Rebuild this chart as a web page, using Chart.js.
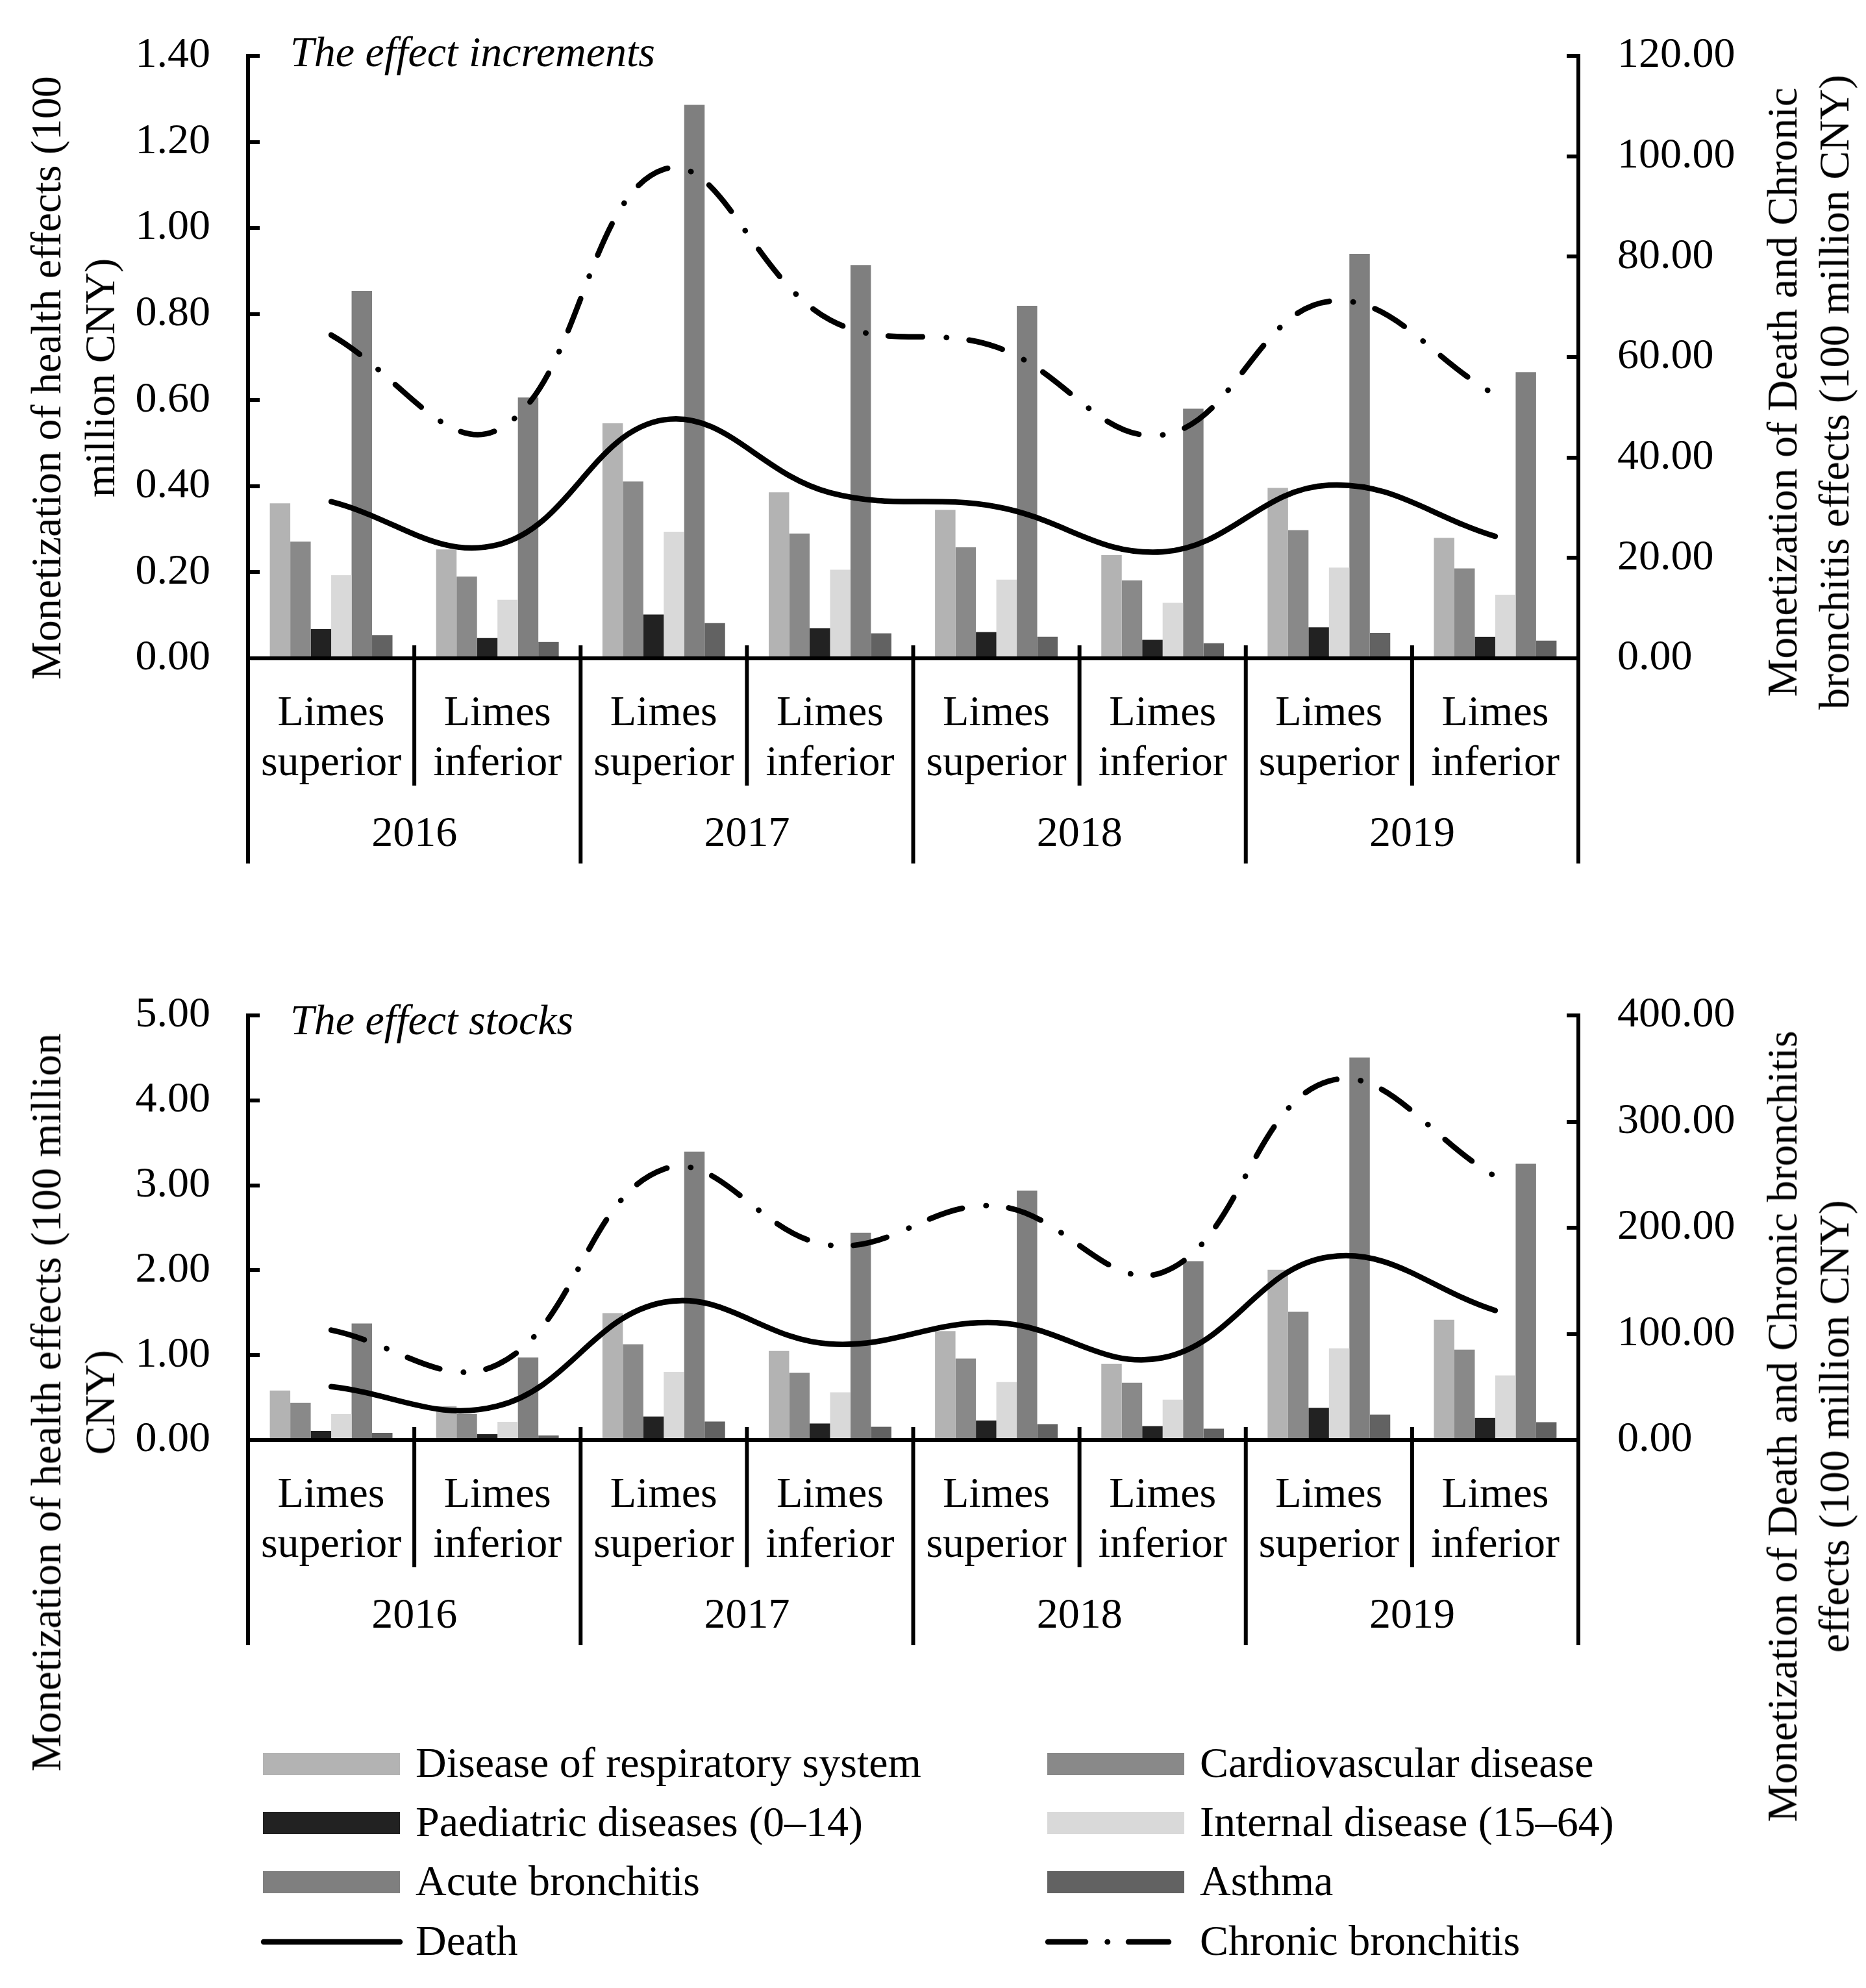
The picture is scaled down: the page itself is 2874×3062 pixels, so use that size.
<!DOCTYPE html>
<html>
<head>
<meta charset="utf-8">
<script src="https://cdn.jsdelivr.net/npm/chart.js@4.4.0/dist/chart.umd.min.js"></script>
<style>
  html, body { margin: 0; padding: 0; background: #fff; }
  body { width: 2874px; height: 3062px; position: relative; overflow: hidden;
         font-family: "Liberation Serif", "Times New Roman", serif; color: #000; }
  canvas { position: absolute; left: 0; }
  .title { position: absolute; font-size: 66px; line-height: 66px; font-style: italic; white-space: nowrap; }
  .ytitle { position: absolute; font-size: 66px; white-space: nowrap; text-align: center;
            transform: translate(-50%, -50%) rotate(-90deg); }
  .lg-text { position: absolute; font-size: 66px; line-height: 66px; white-space: nowrap; }
  .lg-box { position: absolute; width: 211px; height: 34px; }
  svg.lg-line { position: absolute; overflow: visible; }
</style>
</head>
<body>
<canvas id="incChart" width="2874" height="1340" style="top:0px"></canvas>
<canvas id="stockChart" width="2874" height="1060" style="top:1480px"></canvas>

<div class="title" style="left:447px;top:47px">The effect increments</div>
<div class="title" style="left:447px;top:1538px">The effect stocks</div>

<div class="ytitle" style="left:112px;top:582px;line-height:83px">Monetization of health effects (100<br>million CNY)</div>
<div class="ytitle" style="left:2785px;top:604px;line-height:80px">Monetization of Death and Chronic<br>bronchitis effects (100 million CNY)</div>
<div class="ytitle" style="left:112px;top:2160px;line-height:83px">Monetization of health effects (100 million<br>CNY)</div>
<div class="ytitle" style="left:2785px;top:2197px;line-height:80px">Monetization of Death and Chronic bronchitis<br>effects (100 million CNY)</div>

<div id="legend"></div>

<script>
// categories
const years = ['2016', '2017', '2018', '2019'];
const limes = [['Limes', 'superior'], ['Limes', 'inferior']];
const categories = years.flatMap(() => limes);

const barNames = ['Disease of respiratory system', 'Cardiovascular disease', 'Paediatric diseases (0\u201314)',
                  'Internal disease (15\u201364)', 'Acute bronchitis', 'Asthma'];
const barColors = ['#b3b3b3', '#898989', '#222222', '#d9d9d9', '#7f7f7f', '#626262'];
const lineNames = ['Death', 'Chronic bronchitis'];

// the effect increments (left axis, 100 million CNY)
const incRespiratory = [0.360, 0.253, 0.546, 0.386, 0.345, 0.240, 0.396, 0.280];
const incCardio      = [0.271, 0.190, 0.411, 0.290, 0.258, 0.181, 0.298, 0.209];
const incPaediatric  = [0.068, 0.047, 0.102, 0.070, 0.061, 0.043, 0.072, 0.050];
const incInternal    = [0.193, 0.136, 0.294, 0.206, 0.183, 0.129, 0.211, 0.148];
const incAcute       = [0.854, 0.606, 1.286, 0.914, 0.819, 0.580, 0.940, 0.665];
const incAsthma      = [0.054, 0.038, 0.082, 0.058, 0.050, 0.035, 0.059, 0.041];
// right axis
const incDeath   = [31.2, 22.6, 47.5, 33.0, 30.2, 21.2, 34.5, 24.3];
const incChronic = [64.4, 45.5, 97.4, 67.4, 62.0, 44.5, 71.1, 52.5];

// the effect stocks
const stkRespiratory = [0.582, 0.400, 1.494, 1.049, 1.283, 0.897, 2.005, 1.416];
const stkCardio      = [0.437, 0.306, 1.127, 0.792, 0.959, 0.675, 1.509, 1.065];
const stkPaediatric  = [0.107, 0.069, 0.277, 0.195, 0.230, 0.164, 0.378, 0.261];
const stkInternal    = [0.306, 0.214, 0.803, 0.562, 0.683, 0.476, 1.080, 0.761];
const stkAcute       = [1.372, 0.973, 3.397, 2.441, 2.937, 2.106, 4.505, 3.253];
const stkAsthma      = [0.084, 0.054, 0.218, 0.156, 0.187, 0.133, 0.300, 0.211];
const stkDeath   = [50.3, 32.0, 129.8, 90.5, 110.5, 77.5, 172.5, 122.0];
const stkChronic = [103.6, 71.0, 255.2, 183.5, 220.5, 158.0, 338.2, 248.4];

// tick labels
const incLeftTicks  = [0, 0.2, 0.4, 0.6, 0.8, 1.0, 1.2, 1.4];
const incRightTicks = [0, 20, 40, 60, 80, 100, 120];
const stkLeftTicks  = [0, 1, 2, 3, 4, 5];
const stkRightTicks = [0, 100, 200, 300, 400];

const FONT = '"Liberation Serif", "Times New Roman", serif';
const chronicDash = [53, 36.7, 0.5, 34.7];

// draws the group separators and the year row under the category labels
const groupAxis = {
  id: 'groupAxis',
  afterDraw(chart) {
    const { ctx, chartArea, scales: { x } } = chart;
    const n = categories.length;
    const w = x.getPixelForValue(1) - x.getPixelForValue(0);
    ctx.save();
    ctx.strokeStyle = '#000';
    ctx.lineWidth = 6;
    for (let i = 0; i <= n; i++) {
      const px = i < n ? x.getPixelForValue(i) - w / 2 : x.getPixelForValue(n - 1) + w / 2;
      const full = i % 2 === 0;
      ctx.beginPath();
      ctx.moveTo(px, chartArea.bottom - 20);
      ctx.lineTo(px, chartArea.bottom + (full ? 316 : 196));
      ctx.stroke();
    }
    ctx.fillStyle = '#000';
    ctx.font = '66px ' + FONT;
    ctx.textAlign = 'center';
    ctx.textBaseline = 'middle';
    years.forEach((yr, k) => {
      const cx = (x.getPixelForValue(2 * k) + x.getPixelForValue(2 * k + 1)) / 2;
      ctx.fillText(yr, cx, chartArea.bottom + 272);
    });
    ctx.restore();
  }
};

function valueAxis(position, max, ticks, width) {
  return {
    position: position,
    min: 0,
    max: max,
    afterBuildTicks: s => { s.ticks = ticks.map(v => ({ value: v })); },
    afterFit: s => { s.width = width; s.paddingTop = 0; s.paddingBottom = 0; },
    border: { display: true, color: '#000', width: 6 },
    grid: { display: true, drawOnChartArea: false, drawTicks: true, tickLength: -18, lineWidth: 6, color: '#000' },
    ticks: { padding: position === 'left' ? 76 : 78, color: '#000', font: { family: FONT, size: 66 },
             callback: v => Number(v).toFixed(2) }
  };
}

function makeChart(id, bars, death, chronic, left, right, padTop, xHeight) {
  const datasets = bars.map((vals, i) => ({
    type: 'bar',
    label: barNames[i],
    data: vals,
    backgroundColor: barColors[i],
    borderWidth: 0,
    yAxisID: 'y',
    order: 1,
    categoryPercentage: 0.7375,
    barPercentage: 1.0
  }));
  datasets.push({
    type: 'line', label: lineNames[0], data: death, yAxisID: 'y2', order: 0,
    borderColor: '#000', borderWidth: 8.5, tension: 0.4, pointRadius: 0, fill: false,
    borderCapStyle: 'round', borderJoinStyle: 'round'
  });
  datasets.push({
    type: 'line', label: lineNames[1], data: chronic, yAxisID: 'y2', order: 0,
    borderColor: '#000', borderWidth: 8.5, tension: 0.4, pointRadius: 0, fill: false,
    borderCapStyle: 'round', borderJoinStyle: 'round', borderDash: chronicDash
  });

  return new Chart(document.getElementById(id), {
    type: 'bar',
    data: { labels: categories, datasets: datasets },
    options: {
      responsive: false,
      animation: false,
      devicePixelRatio: 1,
      layout: { padding: { top: padTop, left: 0, right: 0, bottom: 0 } },
      plugins: { legend: { display: false }, tooltip: { enabled: false } },
      scales: {
        x: {
          offset: true,
          afterFit: s => { s.height = xHeight; },
          border: { display: true, color: '#000', width: 6 },
          grid: { display: false },
          ticks: { autoSkip: false, maxRotation: 0, minRotation: 0, padding: 39.5, color: '#000',
                   font: { family: FONT, size: 66, lineHeight: 77 / 66 } }
        },
        y: valueAxis('left', left[left.length - 1], left, 382),
        y2: valueAxis('right', right[right.length - 1], right, 443)
      }
    },
    plugins: [groupAxis]
  });
}

makeChart('incChart',
  [incRespiratory, incCardio, incPaediatric, incInternal, incAcute, incAsthma],
  incDeath, incChronic, incLeftTicks, incRightTicks, 86, 326);

makeChart('stockChart',
  [stkRespiratory, stkCardio, stkPaediatric, stkInternal, stkAcute, stkAsthma],
  stkDeath, stkChronic, stkLeftTicks, stkRightTicks, 84, 322);

// legend: two columns, four rows
(function buildLegend() {
  const root = document.getElementById('legend');
  const colX = [405, 1613];
  const textX = [640, 1848];
  const rowY = [2717, 2808, 2899, 2991];
  const items = barNames.map((name, i) => ({ name: name, color: barColors[i], kind: 'box' }));
  items.push({ name: lineNames[0], kind: 'solid' });
  items.push({ name: lineNames[1], kind: 'dash' });
  items.forEach((it, i) => {
    const col = i % 2, row = Math.floor(i / 2);
    const cy = rowY[row];
    if (it.kind === 'box') {
      const b = document.createElement('div');
      b.className = 'lg-box';
      b.style.left = colX[col] + 'px';
      b.style.top = (cy - 17) + 'px';
      b.style.background = it.color;
      root.appendChild(b);
    } else {
      const ns = 'http://www.w3.org/2000/svg';
      const svg = document.createElementNS(ns, 'svg');
      svg.setAttribute('class', 'lg-line');
      svg.setAttribute('width', '220');
      svg.setAttribute('height', '20');
      svg.style.left = (colX[col] - 3) + 'px';
      svg.style.top = (cy - 10) + 'px';
      const segs = it.kind === 'solid' ? [[4, 214]] : [[4, 62], [95.5, 96], [128, 190]];
      segs.forEach(s => {
        const ln = document.createElementNS(ns, 'line');
        ln.setAttribute('x1', s[0]); ln.setAttribute('x2', s[1]);
        ln.setAttribute('y1', 10); ln.setAttribute('y2', 10);
        ln.setAttribute('stroke', '#000'); ln.setAttribute('stroke-width', '8.5');
        ln.setAttribute('stroke-linecap', 'round');
        svg.appendChild(ln);
      });
      root.appendChild(svg);
    }
    const t = document.createElement('div');
    t.className = 'lg-text';
    t.style.left = textX[col] + 'px';
    t.style.top = (cy + 20 - 55) + 'px';
    t.textContent = it.name;
    root.appendChild(t);
  });
})();
</script>
</body>
</html>
